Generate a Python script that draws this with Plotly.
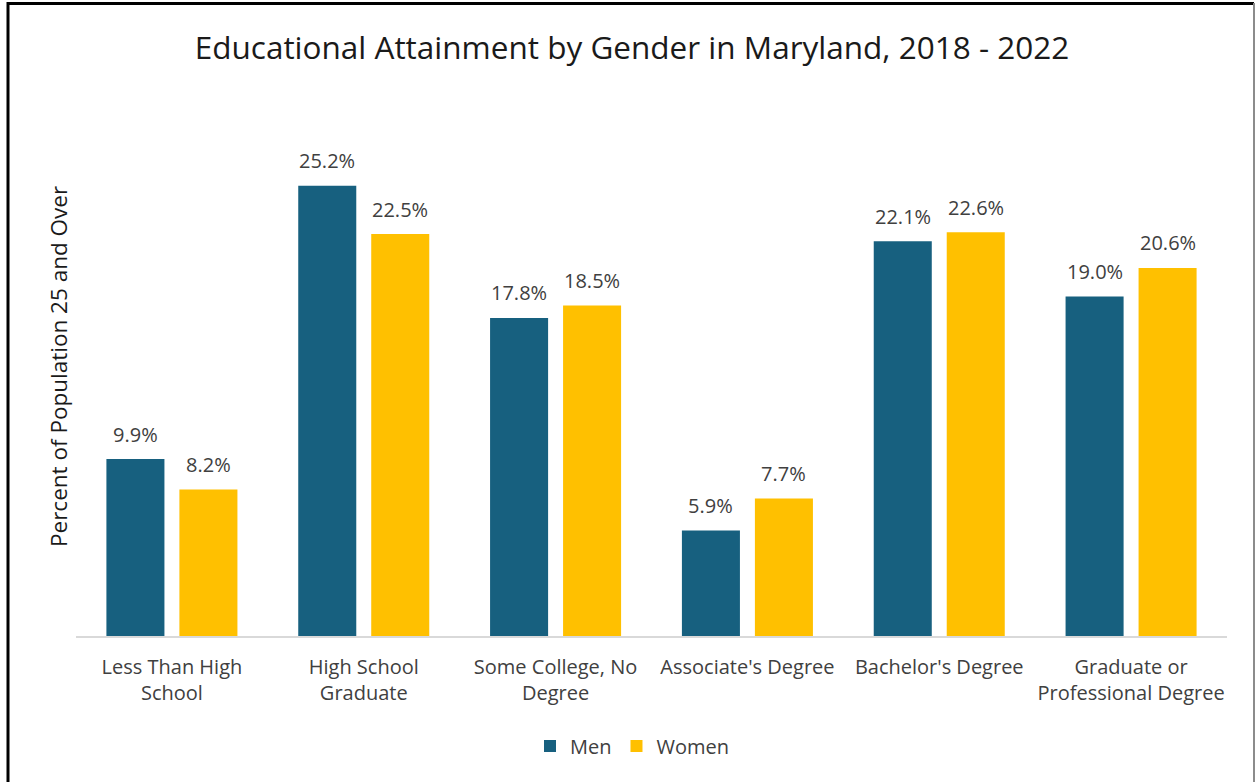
import plotly.graph_objects as go

categories = ["Less Than High<br>School", "High School<br>Graduate", "Some College, No<br>Degree",
              "Associate's Degree", "Bachelor's Degree", "Graduate or<br>Professional Degree"]
men = [9.9, 25.2, 17.8, 5.9, 22.1, 19.0]
women = [8.2, 22.5, 18.5, 7.7, 22.6, 20.6]

FONT = "Open Sans"
W, H = 1257, 782
L, R, T, B = 76, 30, 100, 146
pw, ph = W - L - R, H - T - B


def px(x):
    return (x - L) / pw


def py(y):
    return (H - B - y) / ph


fig = go.Figure()
fig.add_trace(go.Bar(name="Men", x=categories, y=men, marker_color="#17607F",
                     marker_line_width=0))
fig.add_trace(go.Bar(name="Women", x=categories, y=women, marker_color="#FFC000",
                     marker_line_width=0))

annotations = []
for vals, shift in ((men, -36.5), (women, 36.5)):
    for c, v in zip(categories, vals):
        annotations.append(dict(x=c, y=v, xref="x", yref="y", text=f"{v:.1f}%",
                                showarrow=False, xshift=shift, yshift=25,
                                xanchor="center", yanchor="middle",
                                font=dict(size=20, color="#404040", family=FONT)))

annotations.append(dict(text="Percent of Population 25 and Over", xref="paper", yref="paper",
                        x=px(58), y=py(367), xanchor="center", yanchor="middle", textangle=-90,
                        showarrow=False, font=dict(size=22.5, color="#1a1a1a", family=FONT)))

fig.update_layout(
    width=W, height=H,
    margin=dict(l=L, r=R, t=T, b=B),
    paper_bgcolor="white", plot_bgcolor="white",
    font=dict(family=FONT, color="#404040"),
    barmode="group", bargap=0.239, bargroupgap=0.205,
    title=dict(text="Educational Attainment by Gender in Maryland, 2018 - 2022",
               x=632 / W, xanchor="center", y=1 - 48 / H, yanchor="middle",
               font=dict(size=31.5, color="#1a1a1a", family=FONT)),
    xaxis=dict(showline=True, linecolor="#d9d9d9", linewidth=2, ticks="",
               ticklabelstandoff=12,
               tickfont=dict(size=20, color="#404040", family=FONT)),
    yaxis=dict(range=[0, 30], showgrid=False, showticklabels=False, zeroline=False,
               showline=False),
    legend=dict(orientation="h", x=px(632), xanchor="center", y=py(746), yanchor="middle",
                font=dict(size=20, color="#404040", family=FONT), itemwidth=30,
                traceorder="normal"),
    showlegend=True,
    shapes=[
        dict(type="line", xref="paper", yref="paper", x0=px(7), x1=px(1254), y0=py(3.5), y1=py(3.5),
             line=dict(color="black", width=3), layer="below"),
        dict(type="line", xref="paper", yref="paper", x0=px(8), x1=px(8), y0=py(2), y1=py(800),
             line=dict(color="black", width=3), layer="below"),
        dict(type="line", xref="paper", yref="paper", x0=px(1254), x1=px(1254), y0=py(3), y1=py(800),
             line=dict(color="#8c8c8c", width=2), layer="below"),
    ],
    annotations=annotations,
)

fig.write_html("out.html", config={"displayModeBar": False},
               post_script="document.body.style.margin='0';")
